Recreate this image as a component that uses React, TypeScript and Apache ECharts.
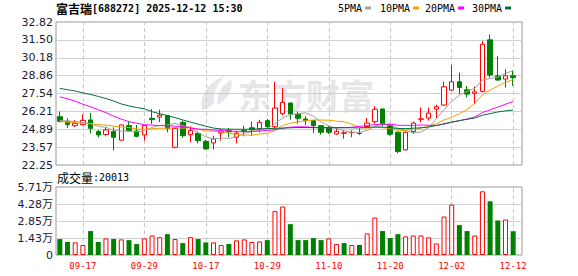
import React, { useEffect, useRef } from "react";
import * as echarts from "echarts";

const dates = ["09-12","09-15","09-16","09-17","09-18","09-19","09-22","09-23","09-24","09-25","09-26","09-29","09-30","10-09","10-10","10-13","10-14","10-15","10-16","10-17","10-20","10-21","10-22","10-23","10-24","10-27","10-28","10-29","10-30","10-31","11-03","11-04","11-05","11-06","11-07","11-10","11-11","11-12","11-13","11-14","11-17","11-18","11-19","11-20","11-21","11-24","11-25","11-26","11-27","11-28","12-01","12-02","12-03","12-04","12-05","12-08","12-09","12-10","12-11","12-12"];

const opens = [25.82,25.48,25.16,25.23,25.58,24.72,24.50,24.72,24.08,25.16,24.77,24.47,25.70,25.80,25.90,23.56,25.40,24.49,24.59,24.00,23.88,24.62,24.79,24.30,24.80,25.00,24.93,25.53,25.08,26.04,26.83,26.02,25.65,25.53,25.16,25.03,24.54,24.60,24.64,24.58,25.10,25.45,26.39,25.16,24.67,23.37,24.72,25.63,25.72,26.39,26.68,27.79,28.40,27.81,27.54,27.69,31.50,28.84,28.60,28.84];
const closes = [25.48,25.23,25.33,25.55,24.96,24.47,24.84,24.30,25.21,24.81,24.37,25.16,25.60,25.94,24.96,24.96,24.42,24.79,24.05,23.44,24.18,24.72,24.70,24.60,24.72,24.85,25.40,25.08,26.46,26.87,26.02,25.70,25.53,25.16,24.67,24.67,24.74,24.63,24.66,24.60,25.35,26.37,25.29,24.52,23.24,24.67,25.35,25.66,26.09,26.56,28.03,28.40,27.98,27.49,27.66,31.17,28.90,28.53,28.84,28.71];
const lows = [25.40,24.99,25.06,25.16,24.59,24.30,24.42,23.32,24.03,24.72,24.30,24.05,25.29,25.42,24.67,23.49,24.25,23.93,23.85,23.39,23.39,24.05,24.30,23.85,24.37,24.42,24.67,24.93,24.93,25.90,25.60,25.30,25.21,24.62,24.49,24.54,24.49,24.20,24.30,24.47,25.03,25.30,25.10,24.42,23.12,23.32,24.54,25.40,25.53,25.70,26.63,27.74,27.49,27.24,26.76,27.62,28.71,28.47,27.98,28.10];
const highs = [26.19,25.70,25.58,25.99,26.09,24.84,25.08,25.03,25.25,25.50,25.21,25.21,26.39,26.34,25.95,25.03,25.53,25.11,24.72,24.10,24.42,24.95,24.99,24.79,25.16,25.45,25.58,25.65,28.40,27.93,26.87,26.19,25.85,25.58,25.21,25.16,25.03,24.79,24.82,24.96,25.72,26.60,26.42,25.33,24.72,24.72,25.47,26.50,26.50,26.70,28.42,29.63,29.08,28.10,28.05,31.42,31.90,30.31,29.33,29.21];

const ma5 = [25.55,25.50,25.47,25.40,25.31,25.11,25.03,24.82,24.76,24.73,24.71,24.77,25.03,25.18,25.21,25.32,25.18,25.01,24.64,24.33,24.18,24.24,24.22,24.33,24.58,24.72,24.85,24.93,25.30,25.73,25.97,26.03,26.12,25.86,25.42,25.15,24.95,24.77,24.67,24.66,24.80,25.12,25.25,25.23,24.95,24.82,24.61,24.69,25.00,25.67,26.34,26.95,27.41,27.69,27.91,28.54,28.64,28.75,29.02,29.23];
const ma10 = [25.45,25.42,25.38,25.33,25.30,25.24,25.20,25.12,25.05,25.02,24.91,24.90,24.93,24.97,24.97,25.02,24.97,25.02,24.91,24.77,24.75,24.71,24.62,24.48,24.46,24.45,24.55,24.57,24.82,25.16,25.34,25.44,25.52,25.58,25.57,25.56,25.49,25.45,25.27,25.04,24.97,25.04,25.01,24.95,24.81,24.81,24.87,24.97,25.11,25.31,25.58,25.78,26.05,26.35,26.79,27.44,27.79,28.08,28.36,28.57];
const ma20 = [27.29,27.15,26.96,26.74,26.56,26.34,26.12,25.86,25.64,25.45,25.34,25.23,25.20,25.16,25.16,25.12,25.09,24.98,24.90,24.89,24.83,24.80,24.77,24.72,24.71,24.73,24.76,24.80,24.86,24.96,25.05,25.07,25.07,25.03,25.02,25.00,25.02,25.01,25.04,25.10,25.16,25.24,25.27,25.26,25.19,25.18,25.18,25.21,25.19,25.17,25.27,25.41,25.53,25.65,25.80,26.12,26.33,26.53,26.74,26.94];
const ma30 = [27.91,27.82,27.72,27.58,27.46,27.32,27.16,26.98,26.76,26.62,26.50,26.40,26.19,26.04,25.90,25.75,25.58,25.42,25.27,25.12,24.98,24.91,24.90,24.89,24.89,24.90,24.92,24.94,24.96,24.98,25.00,25.02,25.02,25.01,25.00,25.01,25.00,25.01,25.00,24.99,25.02,25.06,25.05,25.00,24.95,24.94,24.97,25.00,25.06,25.17,25.30,25.42,25.53,25.63,25.72,25.93,26.05,26.17,26.25,26.31];

const volumes = [13400,10900,10600,8400,20100,10900,13900,13400,13100,12500,9200,13900,16400,15000,17500,13400,10000,15000,13400,10600,10600,8400,9200,12300,13100,10900,11400,12500,36800,40700,25900,12500,12500,14200,12500,13900,9200,10000,8400,8400,18100,31500,20100,14200,17500,15600,16400,16400,14800,9700,32300,42300,25100,20100,16400,53500,45100,29000,29800,20013];
const volUp = [0,0,1,1,0,0,1,0,1,0,0,1,1,1,0,1,0,1,0,0,1,1,0,1,1,1,1,0,1,1,0,0,0,0,0,1,1,0,1,0,1,1,0,0,0,1,1,1,1,1,1,1,0,0,1,1,0,0,1,0];

const priceTicks = ["22.25","23.57","24.89","26.21","27.54","28.86","30.18","31.50","32.82"];
const volTicks = ["0","1.43万","2.85万","4.28万","5.71万"];
const labelDates = ["09-17","09-29","10-17","10-29","11-10","11-20","12-02","12-12"];

const maNames = ["5PMA", "10PMA", "20PMA", "30PMA"];
const maColors = ["#a0a0a0", "#f0a000", "#ff00ff", "#00703c"];
const maData = [ma5, ma10, ma20, ma30];
const legendLeft = [338, 380, 425, 472];

const RED = "#ff0000";
const GREEN = "#008000";

echarts.graphic.registerShape(
  "logo",
  echarts.graphic.extendPath(
    "M 10 95 C 0 60 20 20 75 0 C 50 25 40 50 45 75 C 35 85 22 92 10 95 Z M 55 80 C 50 55 62 30 95 10 C 100 40 85 65 55 80 Z",
    {}
  )
);

export default function App() {
  const ref = useRef<HTMLDivElement>(null);
  useEffect(() => {
    if (!ref.current) return;
    const chart = echarts.init(ref.current, null, { renderer: "svg" });
    const monoFont = "DejaVu Sans Mono";
    const cjkFont = "Noto Sans CJK SC";
    const numFont = "DejaVu Sans, Noto Sans CJK SC";
    const markLine = {
      silent: true,
      z: 1,
      symbol: ["none", "none"],
      label: { show: false },
      lineStyle: { type: [4, 3], color: "#c8c8c8", width: 1 },
      data: labelDates.map((d) => ({ xAxis: d })),
      animation: false,
    };
    const option: any = {
      animation: false,
      backgroundColor: "#ffffff",
      title: {
        text: "{a|富吉瑞}{b|[688272] 2025-12-12 15:30}",
        left: 56,
        top: 2,
        padding: 0,
        textStyle: {
          rich: {
            a: { fontFamily: cjkFont, fontSize: 12, color: "#000", lineHeight: 13 },
            b: { fontFamily: monoFont, fontSize: 10, color: "#000", lineHeight: 13 },
          },
        },
      },
      legend: maNames.map((n, i) => ({
        data: [n],
        left: legendLeft[i],
        top: 2,
        padding: 0,
        align: "right",
        icon: "rect",
        itemWidth: 6,
        itemHeight: 3,
        itemGap: 4,
        selectedMode: false,
        textStyle: { fontFamily: monoFont, fontSize: 10, color: "#000", lineHeight: 12, padding: [0, -2, 0, 0] },
      })),
      grid: [
        { left: 56, right: 61, top: 22, height: 143 },
        { left: 56, right: 61, top: 187, height: 68 },
        { left: 56, right: 56, top: 22, height: 143, show: true, borderColor: "#999", borderWidth: 1, backgroundColor: "transparent" },
        { left: 56, right: 56, top: 187, height: 68, show: true, borderColor: "#999", borderWidth: 1, backgroundColor: "transparent" },
      ],
      xAxis: [
        { type: "category", gridIndex: 0, data: dates, boundaryGap: true, axisLine: { show: false }, axisTick: { show: false }, axisLabel: { show: false }, splitLine: { show: false } },
        {
          type: "category", gridIndex: 1, data: dates, boundaryGap: true,
          axisLine: { show: false }, axisTick: { show: false }, splitLine: { show: false },
          axisLabel: {
            show: true,
            interval: (idx: number) => labelDates.indexOf(dates[idx]) >= 0,
            color: RED,
            fontFamily: monoFont,
            fontSize: 9,
            margin: 6,
          },
        },
        { type: "value", gridIndex: 2, min: 0, max: 1, show: false },
        { type: "value", gridIndex: 3, min: 0, max: 1, show: false },
      ],
      yAxis: [
        { type: "value", gridIndex: 0, min: 22.25, max: 32.82, show: false },
        { type: "value", gridIndex: 1, min: 0, max: 57100, show: false },
        {
          type: "value", gridIndex: 2, min: 0, max: 8, interval: 1,
          axisLine: { show: false }, axisTick: { show: false },
          axisLabel: { formatter: (v: number) => priceTicks[Math.round(v)], fontFamily: numFont, fontSize: 11, color: "#1a1a33", margin: 3 },
          splitLine: { show: true, showMinLine: false, showMaxLine: false, lineStyle: { color: "#d0d0d0", width: 1 } },
        },
        {
          type: "value", gridIndex: 3, min: 0, max: 4, interval: 1,
          axisLine: { show: false }, axisTick: { show: false },
          axisLabel: { formatter: (v: number) => volTicks[Math.round(v)], fontFamily: numFont, fontSize: 11, color: "#1a1a33", margin: 3 },
          splitLine: { show: true, showMinLine: false, showMaxLine: false, lineStyle: { color: "#d0d0d0", width: 1 } },
        },
      ],
      graphic: [
        {
          type: "logo", x: 199, y: 76, scaleX: 0.34, scaleY: 0.36, z: -1,
          style: { fill: "#e6e6ea" }, silent: true,
        },
        {
          type: "text", x: 238, y: 94, z: -1, silent: true,
          style: { text: "东方财富", fontFamily: cjkFont, fontSize: 34, fontWeight: "bold", fill: "#e6e6ea", verticalAlign: "middle" },
        },
        {
          type: "text", x: 57, y: 177.5, silent: true,
          style: {
            text: "{a|成交量}{b|:20013}",
            verticalAlign: "middle",
            rich: {
              a: { fontFamily: cjkFont, fontSize: 12, fill: "#000" },
              b: { fontFamily: monoFont, fontSize: 10, fill: "#000" },
            },
          },
        },
      ],
      series: [
        {
          type: "line",
          name: "dateLinesMain",
          xAxisIndex: 0,
          yAxisIndex: 0,
          data: [],
          z: 1,
          markLine,
        },
        {
          type: "line",
          name: "dateLinesVol",
          xAxisIndex: 1,
          yAxisIndex: 1,
          data: [],
          z: 1,
          markLine,
        },
        {
          type: "candlestick",
          name: "K",
          xAxisIndex: 0,
          yAxisIndex: 0,
          barWidth: 5,
          z: 2,
          data: dates.map((_, i) => [opens[i], closes[i], lows[i], highs[i]]),
          itemStyle: { color: "#ffffff", color0: GREEN, borderColor: RED, borderColor0: GREEN, borderWidth: 1 },
        },
        ...maNames.map((n, i) => ({
          type: "line",
          name: n,
          xAxisIndex: 0,
          yAxisIndex: 0,
          data: maData[i],
          symbol: "none",
          showSymbol: false,
          lineStyle: { color: maColors[i], width: 1 },
          itemStyle: { color: maColors[i] },
          z: 3,
        })),
        {
          type: "bar",
          name: "成交量",
          xAxisIndex: 1,
          yAxisIndex: 1,
          barWidth: 5,
          z: 2,
          data: volumes.map((v, i) => ({
            value: v,
            itemStyle: volUp[i]
              ? { color: "#ffffff", borderColor: RED, borderWidth: 1 }
              : { color: GREEN, borderColor: GREEN, borderWidth: 0 },
          })),
        },
      ],
    };
    chart.setOption(option);
    return () => chart.dispose();
  }, []);
  return (
    <div
      ref={ref}
      style={{ position: "fixed", left: 0, top: 0, width: 578, height: 276, background: "#fff" }}
    />
  );
}
